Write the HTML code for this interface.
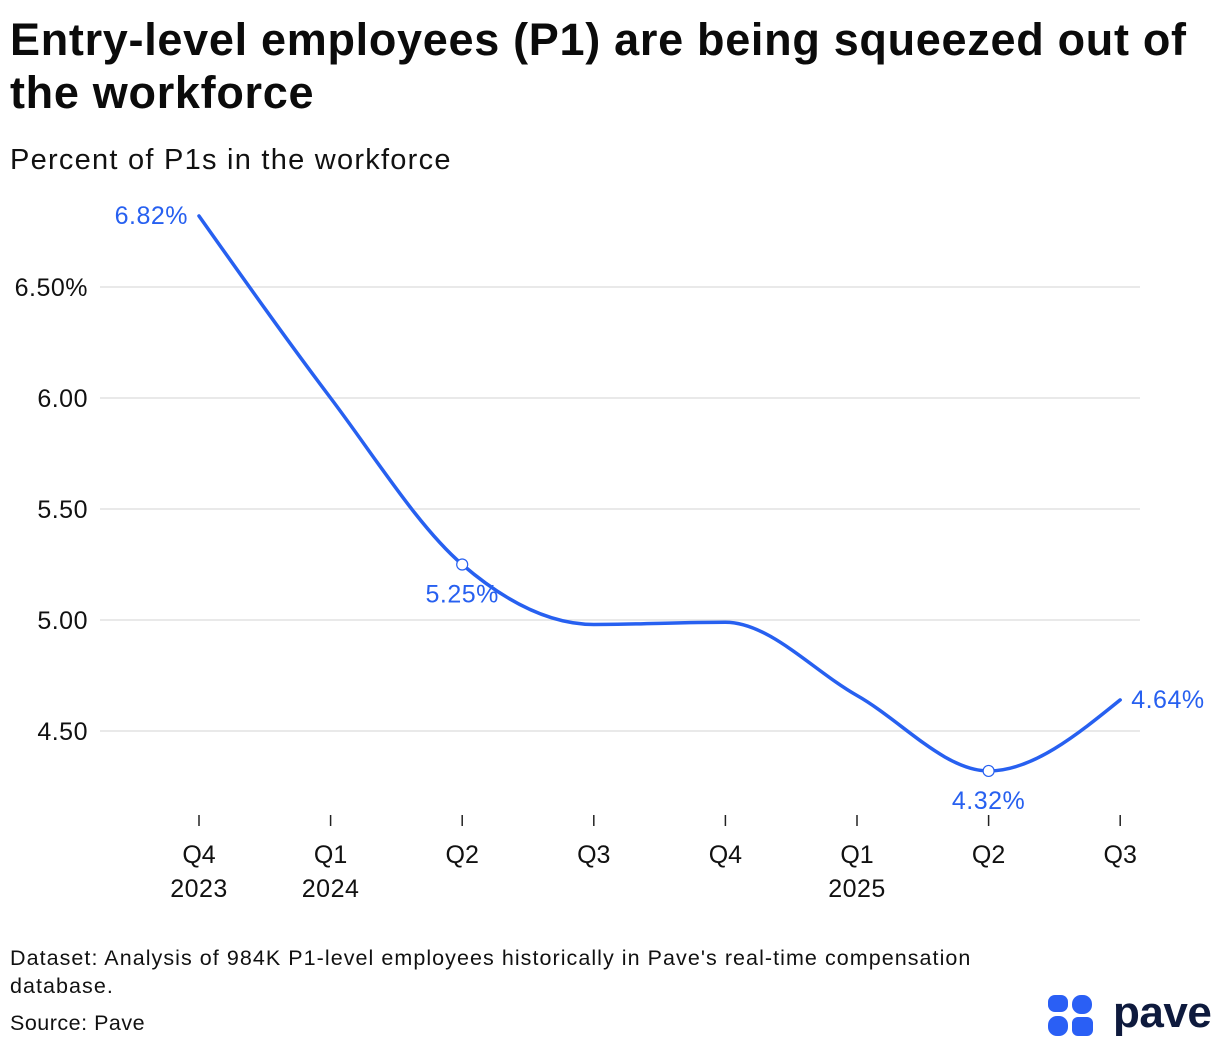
<!DOCTYPE html>
<html><head><meta charset="utf-8"><style>
body{margin:0;width:1220px;height:1048px;background:#fff;font-family:"Liberation Sans",sans-serif;overflow:hidden;position:relative}
.t{position:absolute;margin:0;white-space:nowrap}
</style></head><body>
<h1 class="t" style="left:10px;top:13px;font-size:45px;line-height:53px;font-weight:bold;color:#0b0b0b;letter-spacing:0.7px">Entry-level employees (P1) are being squeezed out of<br>the workforce</h1>
<div class="t" style="left:10px;top:144px;font-size:29px;color:#111;letter-spacing:1.25px">Percent of P1s in the workforce</div>
<svg id="chart" style="position:absolute;left:0;top:0" width="1220" height="940"></svg>
<div class="t" style="left:10px;top:944px;font-size:21.5px;line-height:28px;color:#111;letter-spacing:1.05px">Dataset: Analysis of 984K P1-level employees historically in Pave's real-time compensation<br>database.</div>
<div class="t" style="left:10px;top:1011px;font-size:21.5px;color:#111;letter-spacing:0.5px">Source: Pave</div>
<div style="position:absolute;left:1047px;top:994px;width:170px;height:44px">
<svg width="60" height="44"><rect x="1" y="1" width="20" height="17" rx="7" fill="#2a5ff5"/><rect x="25" y="1" width="20" height="19" rx="9" fill="#2a5ff5"/><rect x="1" y="22" width="20" height="20" rx="9" fill="#2a5ff5"/><rect x="25" y="23" width="21" height="19" rx="6" fill="#2a5ff5"/></svg>
<span style="position:absolute;left:66px;top:-6px;font-size:44px;font-weight:bold;color:#0e1a3d;letter-spacing:-0.5px">pave</span></div>
<script>
const categories=["Q4","Q1","Q2","Q3","Q4","Q1","Q2","Q3"];
const years=["2023","2024","","","","2025","",""];
const values=[6.82,6.0,5.25,4.98,4.99,4.66,4.32,4.64];
const yTicks=[6.5,6.0,5.5,5.0,4.5];
const yTickLabels=["6.50%","6.00","5.50","5.00","4.50"];
const labeled=[0,2,6,7];
const NS="http://www.w3.org/2000/svg";
const svg=document.getElementById('chart');
const x=i=>199+i*131.6;
const y=v=>287+(6.5-v)*222;
function mk(t,a,txt){const e=document.createElementNS(NS,t);for(const k in a)e.setAttribute(k,a[k]);if(txt!=null)e.textContent=txt;svg.appendChild(e);return e;}
yTicks.forEach((v,i)=>{
const g=mk('line',{x1:100,x2:1140,y1:y(v),y2:y(v),stroke:'#e2e2e2','stroke-width':1.5});


const t=mk('text',{x:88,y:y(v)+9,'text-anchor':'end','font-size':25,fill:'#111','letter-spacing':0.5},yTickLabels[i]);


});
categories.forEach((c,i)=>{
const tk=mk('line',{x1:x(i),x2:x(i),y1:815,y2:826,stroke:'#222','stroke-width':1.5});


const t=mk('text',{x:x(i),y:863,'text-anchor':'middle','font-size':25,fill:'#111'},c);


if(years[i]){const t2=mk('text',{x:x(i),y:897,'text-anchor':'middle','font-size':25,fill:'#111','letter-spacing':0.5},years[i]);

}
});
const px=values.map((v,i)=>x(i)),py=values.map(v=>y(v));
const n=px.length,d=[],m=new Array(n);
for(let i=0;i<n-1;i++)d.push((py[i+1]-py[i])/(px[i+1]-px[i]));
for(let i=1;i<n-1;i++){if(d[i-1]*d[i]<=0)m[i]=0;else{const h0=px[i]-px[i-1],h1=px[i+1]-px[i];const p=(d[i-1]*h1+d[i]*h0)/(h0+h1);m[i]=(Math.sign(d[i-1])+Math.sign(d[i]))*Math.min(Math.abs(d[i-1]),Math.abs(d[i]),0.5*Math.abs(p));}}
m[0]=(3*d[0]-m[1])/2;m[n-1]=(3*d[n-2]-m[n-2])/2;
let path=`M${px[0]},${py[0]}`;
for(let i=0;i<n-1;i++){const h=(px[i+1]-px[i])/3;path+=`C${px[i]+h},${py[i]+m[i]*h} ${px[i+1]-h},${py[i+1]-m[i+1]*h} ${px[i+1]},${py[i+1]}`;}
const ln=mk('path',{d:path,fill:'none',stroke:'#2760f0','stroke-width':3.5,'stroke-linecap':'round'});


labeled.forEach(i=>{
let lx=x(i),ly=y(values[i]),anchor='middle',tx=lx,ty=ly;
if(i===0){anchor='end';tx=lx-11;ty=ly+8;}
else if(i===n-1){anchor='start';tx=lx+11;ty=ly+8;}
else{ty=ly+38;const c=mk('circle',{cx:lx,cy:ly,r:5.5,fill:'#fff',stroke:'#2760f0','stroke-width':1.2});

}
const t=mk('text',{x:tx,y:ty,'text-anchor':anchor,'font-size':25,fill:'#2760f0','letter-spacing':0.5},values[i].toFixed(2)+'%');


});
</script>
</body></html>
